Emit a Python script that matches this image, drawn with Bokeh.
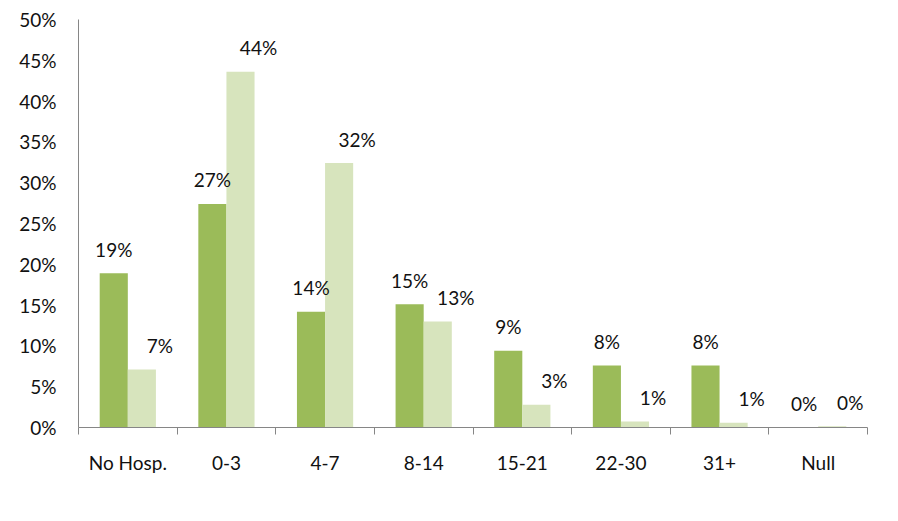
from bokeh.plotting import figure
from bokeh.models import (ColumnDataSource, Range1d, LinearAxis,
                          FixedTicker, NumeralTickFormatter, Legend, LegendItem)
from bokeh.transform import dodge
from bokeh.core.properties import value
from bokeh.embed import file_html
from bokeh.resources import INLINE

categories = ["No Hosp.", "0-3", "4-7", "8-14", "15-21", "22-30", "31+", "Null"]
ps_low = [18.9, 27.4, 14.2, 15.1, 9.4, 7.6, 7.6, 0.0]      # Ps<50%, N=19
ps_high = [7.1, 43.6, 32.4, 13.0, 2.8, 0.74, 0.58, 0.15]   # Ps>=50%, N=2459
series_names = ["Ps<50%, N=19", "Ps>=50%, N=2459"]
y_ticks = [0, 5, 10, 15, 20, 25, 30, 35, 40, 45, 50]

FONT = "Lato"
FS = "19px"
TXT = "#111111"
GREEN = "#9BBB59"
LIGHT = "#D7E4BD"
AXIS = "#868686"

n = len(categories)
centers = [i + 0.5 for i in range(n)]
src = ColumnDataSource(dict(
    xc=centers,
    g=[v / 100 for v in ps_low],
    h=[v / 100 for v in ps_high],
    gl=[f"{round(v)}%" for v in ps_low],
    hl=[f"{round(v)}%" for v in ps_high],
))

p = figure(frame_width=789, frame_height=408, x_range=Range1d(0, n), y_range=Range1d(0, 0.5),
           output_backend="svg", toolbar_location=None, x_axis_location=None, y_axis_location=None,
           min_border_left=78, min_border_right=22, min_border_top=19, min_border_bottom=92)
p.outline_line_color = None
p.xgrid.grid_line_color = None
p.ygrid.grid_line_color = None
p.background_fill_color = "white"

W = 0.285
r1 = p.vbar(x=dodge("xc", -W / 2), top="g", width=W, source=src,
            fill_color=GREEN, line_color=None)
r2 = p.vbar(x=dodge("xc", W / 2), top="h", width=W, source=src,
            fill_color=LIGHT, line_color=None)

p.text(x=dodge("xc", -W / 2), y="g", text="gl", source=src,
       text_align="center", text_baseline="middle", y_offset=-24,
       text_font=value(FONT), text_font_size=FS, text_color=TXT)
p.text(x=dodge("xc", W / 2), y="h", text="hl", source=src,
       text_align="center", text_baseline="middle", y_offset=-24, x_offset=18,
       text_font=value(FONT), text_font_size=FS, text_color=TXT)

# y axis
yax = LinearAxis(ticker=FixedTicker(ticks=[t / 100 for t in y_ticks]),
                 formatter=NumeralTickFormatter(format="0%"))
yax.axis_line_color = AXIS
yax.major_tick_out = 0
yax.major_tick_in = 0
yax.minor_tick_line_color = None
yax.major_label_standoff = 22
yax.major_label_text_font = FONT
yax.major_label_text_font_size = FS
yax.major_label_text_color = TXT
p.add_layout(yax, "left")

# x axis: boundary ticks (no labels)
bax = LinearAxis(ticker=FixedTicker(ticks=list(range(n + 1))),
                 major_label_overrides={i: "" for i in range(n + 1)})
bax.axis_line_color = AXIS
bax.major_tick_line_color = AXIS
bax.major_tick_out = 7
bax.major_tick_in = 0
bax.minor_tick_line_color = None
bax.major_label_text_font_size = "2px"
bax.major_label_standoff = 0
p.add_layout(bax, "below")

# x axis: category labels
cax = LinearAxis(ticker=FixedTicker(ticks=centers),
                 major_label_overrides={c: lab for c, lab in zip(centers, categories)})
cax.axis_line_color = None
cax.major_tick_line_color = None
cax.major_tick_out = 0
cax.minor_tick_line_color = None
cax.major_label_standoff = 16
cax.major_label_text_font = FONT
cax.major_label_text_font_size = FS
cax.major_label_text_color = TXT
p.add_layout(cax, "below")

legend = Legend(items=[LegendItem(label=series_names[0], renderers=[r1]),
                       LegendItem(label=series_names[1], renderers=[r2])],
                orientation="horizontal", location=(203, -84),
                label_text_font=FONT, label_text_font_size=FS, label_text_color=TXT,
                glyph_width=11, glyph_height=11, spacing=30, label_standoff=7,
                border_line_color=None, background_fill_alpha=0, padding=0, margin=0)
p.add_layout(legend, "center")

open("out.html", "w").write(file_html(p, INLINE))
